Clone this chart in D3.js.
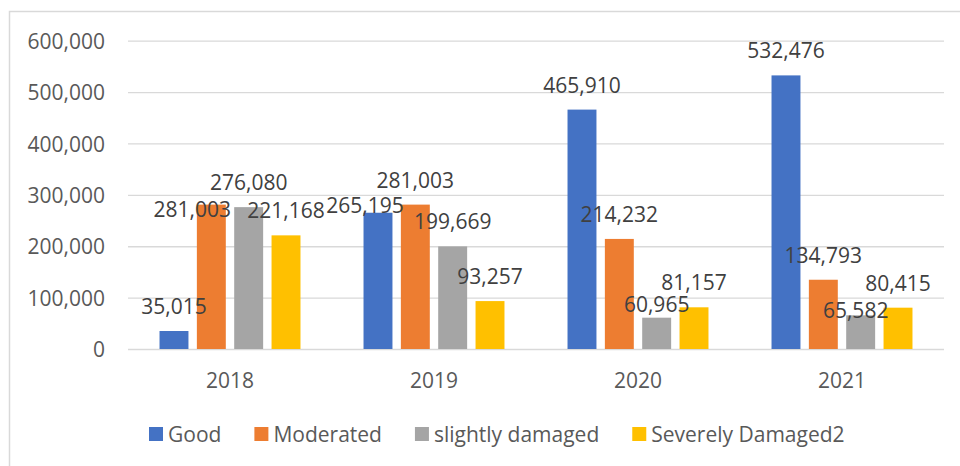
<!DOCTYPE html>
<html><head><meta charset="utf-8">
<script src="https://cdn.jsdelivr.net/npm/d3@7"></script>
<style>body{margin:0;background:#fff}svg{display:block}text{font-family:"Open Sans",sans-serif}</style>
</head><body><svg id="c" width="960" height="466"></svg>
<script>
const categories = ["2018", "2019", "2020", "2021"];
const seriesNames = ["Good", "Moderated", "slightly damaged", "Severely Damaged2"];
const good = [35015, 265195, 465910, 532476];
const moderated = [281003, 281003, 214232, 134793];
const slightly = [276080, 199669, 60965, 65582];
const severely = [221168, 93257, 81157, 80415];
const yTicks = [0, 100000, 200000, 300000, 400000, 500000, 600000];
const colors = ["#4472C4", "#ED7D31", "#A5A5A5", "#FFC000"];
// label nudges (dx, dy) for labels Excel moved to avoid overlap: [series][category]
const labelNudge = [
  [[0,0],[-13,17],[0,0],[0,0]],
  [[-19,29],[0,0],[0,0],[0,0]],
  [[0,0],[0,0],[0,11],[-5,20]],
  [[0,0],[0,0],[0,0],[0,0]]
];
const series = [good, moderated, slightly, severely];

const svg = d3.select("#c");
const L = 128, R = 944, T = 40.7, B = 349;
// frame
svg.append("path").attr("d", `M9.5,470 V11.5 H965`).attr("fill","none").attr("stroke","#d9d9d9").attr("stroke-width",1.5);

const y = d3.scaleLinear().domain([0, 600000]).range([B, T]);
const x0 = d3.scaleBand().domain(categories).range([L, R]).paddingInner(0.309).paddingOuter(0.1545);
const x1 = d3.scaleBand().domain(d3.range(4)).range([0, x0.bandwidth()]).paddingInner(0.225).paddingOuter(0);
const fmt = d3.format(",");

// gridlines
const yAxis = d3.axisLeft(y).tickValues(yTicks).tickFormat(fmt).tickSize(-(R - L)).tickPadding(23);
const ga = svg.append("g").attr("transform", `translate(${L},0)`).call(yAxis);
ga.select(".domain").remove();
ga.selectAll("line").attr("stroke", "#d9d9d9").attr("stroke-width", 1.3);
ga.selectAll("text").attr("fill", "#595959").attr("font-size", "21px").attr("dy", "0.36em");

// x axis labels
const xAxis = d3.axisBottom(x0).tickSize(0).tickPadding(24);
const gx = svg.append("g").attr("transform", `translate(0,${B})`).call(xAxis);
gx.select(".domain").remove();
gx.selectAll("text").attr("fill", "#595959").attr("font-size", "21px");

// bars
series.forEach((vals, si) => {
  const g = svg.append("g");
  g.selectAll("rect").data(vals).join("rect")
    .attr("x", (d, i) => x0(categories[i]) + x1(si))
    .attr("width", x1.bandwidth())
    .attr("y", d => y(d))
    .attr("height", d => B - y(d))
    .attr("fill", colors[si]);
});
// labels
series.forEach((vals, si) => {
  svg.append("g").selectAll("text").data(vals).join("text")
    .attr("x", (d, i) => x0(categories[i]) + x1(si) + x1.bandwidth() / 2 + labelNudge[si][i][0])
    .attr("y", (d, i) => y(d) - 17 + labelNudge[si][i][1])
    .attr("text-anchor", "middle")
    .attr("fill", "#404040")
    .attr("font-size", "21px")
    .text(d => fmt(d));
});

// legend
const lg = svg.append("g");
let lx = 149;
seriesNames.forEach((n, i) => {
  lg.append("rect").attr("x", lx).attr("y", 427).attr("width", 14).attr("height", 14).attr("fill", colors[i]);
  const t = lg.append("text").attr("x", lx + 19).attr("y", 441.5).attr("fill", "#595959").attr("font-size", "21px").text(n);
  lx += 19 + t.node().getComputedTextLength() + 33;
});
</script>
</body></html>
